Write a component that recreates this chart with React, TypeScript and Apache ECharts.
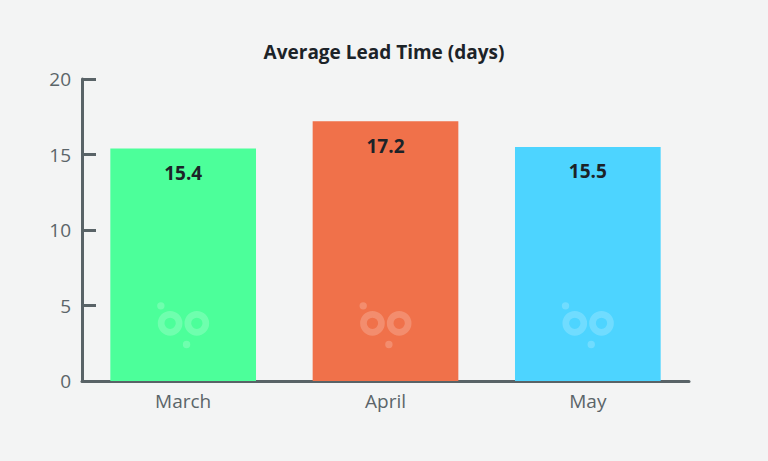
import React, { useEffect, useRef } from "react";
import * as echarts from "echarts";

const categories = ["March", "April", "May"];
const values = [15.4, 17.2, 15.5];
const barColors = ["#4cff9a", "#f0714a", "#4dd4ff"];
const logoLevel = [3.7, 3.7, 3.7];
const yTicks = { min: 0, max: 20, interval: 5 };

function circle(cx: number, cy: number, r: number, rev: boolean) {
  const s = rev ? 1 : 0;
  return `M${cx - r} ${cy} A${r} ${r} 0 1 ${s} ${cx + r} ${cy} A${r} ${r} 0 1 ${s} ${cx - r} ${cy} Z `;
}
const logoPath =
  "path://" +
  circle(4, 4, 3.6, false) +
  circle(13, 21, 12, false) +
  circle(13, 21, 5.5, true) +
  circle(39, 21, 12, false) +
  circle(39, 21, 5.5, true) +
  circle(29, 41.5, 3.6, false);

export default function App() {
  const ref = useRef<HTMLDivElement>(null);
  useEffect(() => {
    document.body.style.margin = "0";
    document.body.style.background = "#f3f4f4";
    const chart = echarts.init(ref.current!, null, { renderer: "svg" });
    const axisColor = "#596367";
    chart.setOption({
      animation: false,
      backgroundColor: "#f3f4f4",
      title: {
        text: "Average Lead Time (days)",
        left: "center",
        top: 37,
        textStyle: {
          fontFamily: "Open Sans",
          fontWeight: "bold",
          fontSize: 19,
          color: "#1c2328",
        },
      },
      grid: { left: 82, right: 79, top: 79, bottom: 80 },
      xAxis: {
        type: "category",
        data: categories,
        axisLine: { lineStyle: { color: axisColor, width: 3 } },
        axisTick: { inside: true, length: 8, lineStyle: { color: axisColor, width: 3 } },
        axisLabel: { color: "#5b6569", fontSize: 19, fontFamily: "Open Sans", margin: 10 },
      },
      yAxis: {
        type: "value",
        min: yTicks.min,
        max: yTicks.max,
        interval: yTicks.interval,
        splitLine: { show: false },
        axisLine: { show: true, lineStyle: { color: axisColor, width: 3 } },
        axisTick: { show: true, inside: true, length: 14, lineStyle: { color: axisColor, width: 3 } },
        axisLabel: { color: "#5b6569", fontSize: 19, fontFamily: "Open Sans", margin: 11 },
      },
      series: [
        {
          type: "bar",
          barWidth: "72%",
          data: values.map((v, i) => ({ value: v, itemStyle: { color: barColors[i] } })),
          label: {
            show: true,
            position: "insideTop",
            distance: 15,
            fontFamily: "Open Sans",
            fontWeight: "bold",
            fontSize: 19,
            color: "#1c2328",
          },
          z: 2,
        },
        {
          type: "scatter",
          data: logoLevel,
          symbol: logoPath,
          symbolSize: [52, 46],
          silent: true,
          itemStyle: { color: "rgba(255,255,255,0.25)" },
          z: 3,
        },
      ],
    });
    return () => chart.dispose();
  }, []);
  return <div ref={ref} style={{ width: 768, height: 461 }} />;
}
